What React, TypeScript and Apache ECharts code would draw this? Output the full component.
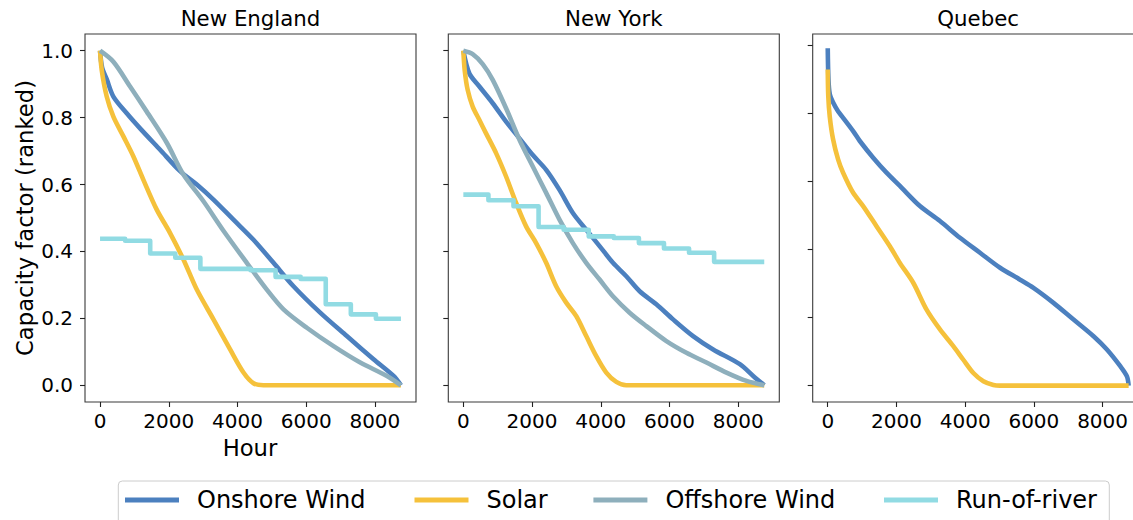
import React, { useEffect, useRef } from "react";
import * as echarts from "echarts";

// ---------- data ----------
const panelTitles = ["New England", "New York", "Quebec"];
const seriesNames = ["Onshore Wind", "Solar", "Offshore Wind", "Run-of-river"];
const xTickValues = [0, 2000, 4000, 6000, 8000];
const yTickValues = [0, 0.2, 0.4, 0.6, 0.8, 1.0];
const monthEdges = [0, 730, 1460, 2190, 2920, 3650, 4380, 5110, 5840, 6570, 7300, 8030, 8759];

const neOnshore = [[0, 1.0], [60, 0.95], [194, 0.915], [388, 0.863], [777, 0.813], [1165, 0.768], [1748, 0.704], [2330, 0.64], [2816, 0.6], [3301, 0.555], [3883, 0.495], [4466, 0.435], [5049, 0.366], [5631, 0.296], [6408, 0.217], [7184, 0.147], [7961, 0.078], [8544, 0.028], [8759, 0]];
const neSolar = [[0, 1.0], [49, 0.942], [194, 0.863], [388, 0.803], [680, 0.744], [971, 0.684], [1262, 0.614], [1650, 0.525], [2039, 0.455], [2427, 0.376], [2816, 0.286], [3301, 0.197], [3786, 0.107], [4175, 0.038], [4466, 0.006], [4757, 0], [8759, 0]];
const neOffshore = [[0, 1.0], [388, 0.967], [874, 0.893], [1359, 0.818], [1942, 0.725], [2427, 0.63], [3010, 0.55], [3592, 0.462], [4272, 0.366], [4854, 0.286], [5340, 0.227], [6019, 0.172], [6796, 0.117], [7573, 0.068], [8350, 0.028], [8759, 0]];
const neRiver = [0.438, 0.432, 0.394, 0.381, 0.348, 0.348, 0.344, 0.324, 0.318, 0.242, 0.212, 0.199];

const nyOnshore = [[0, 1.0], [175, 0.932], [467, 0.893], [855, 0.843], [1244, 0.788], [1633, 0.738], [2022, 0.688], [2411, 0.644], [2799, 0.584], [3188, 0.515], [3577, 0.465], [3966, 0.416], [4355, 0.366], [4743, 0.326], [5132, 0.281], [5618, 0.242], [6104, 0.197], [6687, 0.147], [7271, 0.107], [8048, 0.063], [8437, 0.028], [8759, 0]];
const nySolar = [[0, 1.0], [39, 0.942], [126, 0.883], [272, 0.833], [467, 0.793], [661, 0.753], [953, 0.694], [1244, 0.624], [1536, 0.545], [1827, 0.475], [2119, 0.425], [2411, 0.366], [2702, 0.296], [2994, 0.247], [3285, 0.207], [3577, 0.147], [3869, 0.087], [4160, 0.038], [4452, 0.01], [4743, 0], [8759, 0]];
const nyOffshore = [[0, 1.0], [272, 0.99], [564, 0.96], [855, 0.913], [1244, 0.828], [1633, 0.734], [2022, 0.654], [2411, 0.575], [2799, 0.495], [3188, 0.425], [3577, 0.366], [3966, 0.316], [4355, 0.266], [4840, 0.217], [5326, 0.177], [5910, 0.132], [6493, 0.097], [7076, 0.068], [7659, 0.038], [8243, 0.013], [8759, 0]];
const nyRiver = [0.57, 0.553, 0.535, 0.473, 0.465, 0.445, 0.44, 0.425, 0.409, 0.396, 0.369, 0.369];

const qcOnshore = [[0, 0.99], [20, 0.9], [60, 0.855], [160, 0.83], [300, 0.805], [447, 0.786], [739, 0.747], [933, 0.718], [1322, 0.669], [1711, 0.625], [2100, 0.586], [2683, 0.527], [3266, 0.483], [3849, 0.434], [4432, 0.39], [5016, 0.346], [5599, 0.311], [5988, 0.287], [6571, 0.243], [7154, 0.194], [7737, 0.145], [8126, 0.106], [8515, 0.057], [8709, 0.027], [8759, 0]];
const qcSolar = [[0, 0.928], [15, 0.85], [58, 0.79], [155, 0.723], [301, 0.664], [447, 0.625], [739, 0.566], [1030, 0.527], [1419, 0.468], [1808, 0.409], [2100, 0.36], [2488, 0.302], [2877, 0.223], [3266, 0.165], [3655, 0.116], [3946, 0.076], [4238, 0.037], [4530, 0.013], [4821, 0.002], [5016, 0], [8759, 0]];

const colors = ["#4c80bf", "#f5c13b", "#8eafbc", "#91dbe3"];

// ---------- layout ----------
const FONT = "DejaVu Sans";
const gridLefts = [85, 448.3, 812.7];
const gridTop = 34;
const gridW = 331;
const gridH = 368;
const xRange = [-438, 9197];
const yRanges = [[-0.05, 1.05], [-0.05, 1.05], [-0.048, 1.032]];
const LW = 4.6;

function stepData(vals: number[]) {
  return monthEdges.map((h, i) => [h, vals[Math.min(i, vals.length - 1)]]);
}

export default function App() {
  const ref = useRef<HTMLDivElement>(null);
  useEffect(() => {
    const chart = echarts.init(ref.current!, null, { renderer: "svg" });
    const grids = gridLefts.map((l) => ({
      left: l, top: gridTop, width: gridW, height: gridH,
      outerBoundsMode: "none", containLabel: false,
      show: true, borderColor: "#3a3a3a", borderWidth: 1.1, backgroundColor: "transparent",
    }));
    const xAxes = gridLefts.map((_, i) => ({
      type: "value", gridIndex: i, min: xRange[0], max: xRange[1],
      axisLine: { show: false, onZero: false },
      axisTick: { show: true, inside: false, length: 5, lineStyle: { color: "#222", width: 1.1 }, customValues: xTickValues },
      axisLabel: {
        show: true, customValues: xTickValues, fontSize: 20, fontFamily: FONT, color: "#000", margin: 9,
        formatter: (v: number) => String(Math.round(v)),
      },
      splitLine: { show: false },
    }));
    const yAxes = gridLefts.map((_, i) => ({
      type: "value", gridIndex: i, min: yRanges[i][0], max: yRanges[i][1],
      axisLine: { show: false, onZero: false },
      axisTick: { show: true, inside: false, length: 5, lineStyle: { color: "#222", width: 1.1 }, customValues: yTickValues },
      axisLabel: {
        show: i === 0, customValues: yTickValues, fontSize: 20, fontFamily: FONT, color: "#000", margin: 12,
        formatter: (v: number) => v.toFixed(1),
      },
      splitLine: { show: false },
    }));
    const mk = (name: string, data: number[][], gi: number, ci: number, step?: boolean) => ({
      type: "line", name, data, xAxisIndex: gi, yAxisIndex: gi,
      showSymbol: false, symbol: "none",
      smooth: step ? false : 0.3,
      step: step ? "end" : false,
      lineStyle: { color: colors[ci], width: LW, cap: "butt", join: "round" },
      itemStyle: { color: colors[ci] },
      z: 2 + ci,
    });
    const series = [
      mk(seriesNames[0], neOnshore, 0, 0),
      mk(seriesNames[1], neSolar, 0, 1),
      mk(seriesNames[2], neOffshore, 0, 2),
      mk(seriesNames[3], stepData(neRiver), 0, 3, true),
      mk(seriesNames[0], nyOnshore, 1, 0),
      mk(seriesNames[1], nySolar, 1, 1),
      mk(seriesNames[2], nyOffshore, 1, 2),
      mk(seriesNames[3], stepData(nyRiver), 1, 3, true),
      mk(seriesNames[0], qcOnshore, 2, 0),
      mk(seriesNames[1], qcSolar, 2, 1),
    ];
    const legendLefts = [125, 414.5, 593.4, 884];
    const legends = seriesNames.map((n, i) => ({
      data: [n], left: legendLefts[i], top: 486, padding: 0,
      itemWidth: 54, itemHeight: 5, icon: "rect", selectedMode: false,
      textStyle: { fontSize: 24, fontFamily: FONT, color: "#000", padding: [0, 0, 0, 13], lineHeight: 28 },
    }));
    const graphics: any[] = [
      {
        type: "rect", shape: { x: 118.3, y: 481, width: 991, height: 70, r: 4 },
        style: { fill: "#fff", stroke: "#cccccc", lineWidth: 1 }, z: -1, silent: true,
      },
      ...panelTitles.map((t, i) => ({
        type: "text", x: gridLefts[i] + gridW / 2, y: 18,
        style: { text: t, font: `21.3px '${FONT}'`, fill: "#000", textAlign: "center", textVerticalAlign: "middle" },
      })),
      {
        type: "text", x: 25, y: 218, rotation: Math.PI / 2,
        style: { text: "Capacity factor (ranked)", font: `22.7px '${FONT}'`, fill: "#000", textAlign: "center", textVerticalAlign: "middle" },
      },
      {
        type: "text", x: 250, y: 448,
        style: { text: "Hour", font: `22.7px '${FONT}'`, fill: "#000", textAlign: "center", textVerticalAlign: "middle" },
      },
    ];
    chart.setOption({
      animation: false,
      backgroundColor: "#ffffff",
      grid: grids,
      xAxis: xAxes,
      yAxis: yAxes,
      series,
      legend: legends,
      graphic: graphics,
    });
    return () => chart.dispose();
  }, []);
  return (
    <div
      ref={ref}
      style={{ position: "fixed", left: 0, top: 0, width: 1133, height: 520, overflow: "hidden" }}
    />
  );
}
